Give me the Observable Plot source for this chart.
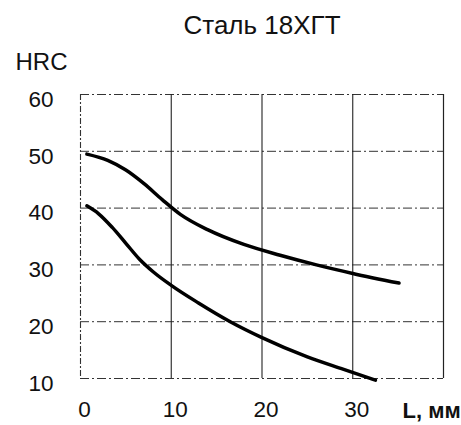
<!DOCTYPE html>
<html>
<head>
<meta charset="utf-8">
<script src="https://cdn.jsdelivr.net/npm/d3@7"></script>
<script src="https://cdn.jsdelivr.net/npm/@observablehq/plot@0.6"></script>
<style>
  html, body { margin: 0; padding: 0; background: #fff; }
</style>
</head>
<body>
<div id="chart"></div>
<script>
const titleText = "Сталь 18ХГТ";
const yLabel = "HRC";
const xLabel = "L, мм";
const xTicks = [0, 10, 20, 30];
const yTicks = [10, 20, 30, 40, 50, 60];
const xDomain = [0, 40];
const yDomain = [10, 60];

// upper curve
const upperL = [0.7, 3, 5, 7, 9, 11, 14, 18, 22, 26, 30, 35.1];
const upperHRC = [49.5, 48.4, 46.7, 44.3, 41.5, 38.9, 36.2, 33.6, 31.7, 30.0, 28.5, 26.8];
// lower curve
const lowerL = [0.7, 2, 3.5, 5, 6.5, 8, 10, 13, 16.5, 20, 25, 29, 32.5];
const lowerHRC = [40.4, 39.0, 36.6, 33.8, 31.0, 28.8, 26.4, 23.3, 20.0, 17.2, 13.8, 11.6, 9.7];

const upper = upperL.map((x, i) => ({x, y: upperHRC[i]}));
const lower = lowerL.map((x, i) => ({x, y: lowerHRC[i]}));

const font = "Liberation Sans, Arial, sans-serif";
const dash = "9,3,2,3";

const chart = Plot.plot({
  width: 461,
  height: 425,
  marginLeft: 80,
  marginRight: 18,
  marginTop: 94,
  marginBottom: 47,
  style: {fontFamily: font, color: "#111", background: "#fff"},
  x: {domain: xDomain},
  y: {domain: yDomain},
  marks: [
    Plot.ruleY(yTicks.filter(v => v !== yDomain[0] && v !== yDomain[1]), {stroke: "#333", strokeWidth: 1, strokeDasharray: dash}),
    Plot.ruleY(yDomain, {stroke: "#333", strokeWidth: 1.1, strokeDasharray: dash}),
    Plot.ruleX(xTicks.filter(v => v !== xDomain[0]), {stroke: "#222", strokeWidth: 1.1}),
    Plot.ruleX([xDomain[0]], {stroke: "#333", strokeWidth: 1.1, strokeDasharray: "6,2,2,2"}),
    Plot.ruleX([xDomain[1]], {stroke: "#222", strokeWidth: 1.2}),
    Plot.line(upper, {x: "x", y: "y", curve: "monotone-x", stroke: "#000", strokeWidth: 3.5}),
    Plot.line(lower, {x: "x", y: "y", curve: "monotone-x", stroke: "#000", strokeWidth: 3.5}),
    Plot.axisX(xTicks, {tickSize: 0, tickPadding: 23, dx: 4, fontSize: 22.5, label: null, fill: "#111"}),
    Plot.axisY(yTicks, {tickSize: 0, tickPadding: 27, dy: 5, fontSize: 22.5, label: null, fill: "#111"}),
    Plot.text([titleText], {text: d => d, frameAnchor: "top", dy: -69, fontSize: 26, lineAnchor: "middle", fill: "#111"}),
    Plot.text([yLabel], {text: d => d, frameAnchor: "top-left", textAnchor: "start", dx: -65, dy: -32, fontSize: 24, lineAnchor: "middle", fill: "#111"}),
    Plot.text([xLabel], {text: d => d, frameAnchor: "bottom-right", textAnchor: "start", dx: -41, dy: 32, fontSize: 22, fontWeight: "bold", lineAnchor: "middle", fill: "#111"})
  ]
});
document.getElementById("chart").appendChild(chart);
</script>
</body>
</html>
